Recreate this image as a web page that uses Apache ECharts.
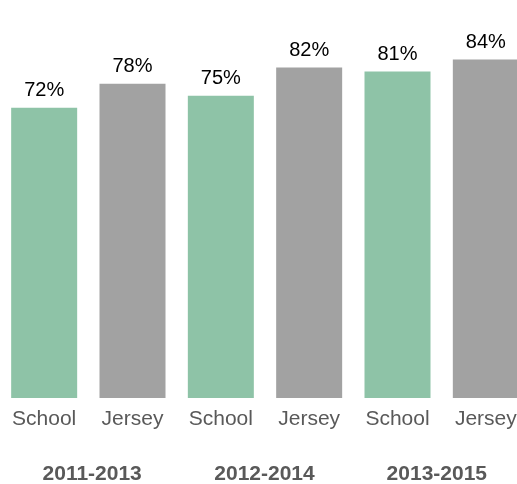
<!DOCTYPE html>
<html>
<head>
<meta charset="utf-8">
<script src="https://cdn.jsdelivr.net/npm/echarts@6/dist/echarts.min.js"></script>
<style>
  html, body { margin: 0; padding: 0; background: #ffffff; }
  #chart { width: 517px; height: 484px; }
</style>
</head>
<body>
<div id="chart"></div>
<script>
// Bar categories, period groups and percentage values
const categories = ['School', 'Jersey', 'School', 'Jersey', 'School', 'Jersey'];
const periods = ['2011-2013', '2012-2014', '2013-2015'];
const values = [72, 78, 75, 82, 81, 84];

const GREEN = '#8ec3a7';
const GREY = '#a2a2a2';
const FONT = '"Liberation Sans", Arial, sans-serif';

const chart = echarts.init(document.getElementById('chart'), null, { renderer: 'canvas' });

chart.setOption({
  animation: false,
  backgroundColor: '#ffffff',
  grid: [
    { left: 0, width: 530, top: -5, bottom: 86, containLabel: false, outerBoundsMode: 'none' },
    { left: 6, width: 517, top: -5, bottom: 86, containLabel: false, outerBoundsMode: 'none' }
  ],
  xAxis: [
    {
      type: 'category',
      gridIndex: 0,
      data: categories,
      axisLine: { show: false },
      axisTick: { show: false },
      axisLabel: {
        interval: 0,
        margin: 11,
        color: '#595959',
        fontFamily: FONT,
        fontSize: 21
      }
    },
    {
      type: 'category',
      gridIndex: 1,
      data: periods,
      axisLine: { show: false },
      axisTick: { show: false },
      axisLabel: {
        interval: 0,
        margin: 66,
        color: '#595959',
        fontFamily: FONT,
        fontSize: 21,
        fontWeight: 'bold'
      }
    }
  ],
  yAxis: [
    { type: 'value', gridIndex: 0, min: 0, max: 100, show: false },
    { type: 'value', gridIndex: 1, min: 0, max: 100, show: false }
  ],
  series: [
    {
      type: 'bar',
      xAxisIndex: 0,
      yAxisIndex: 0,
      barWidth: 66,
      data: values.map((v, i) => ({
        value: v,
        itemStyle: { color: i % 2 === 0 ? GREEN : GREY }
      })),
      label: {
        show: true,
        position: 'top',
        distance: 7,
        color: '#000000',
        fontFamily: FONT,
        fontSize: 20,
        formatter: p => p.value + '%'
      }
    }
  ]
});
</script>
</body>
</html>
